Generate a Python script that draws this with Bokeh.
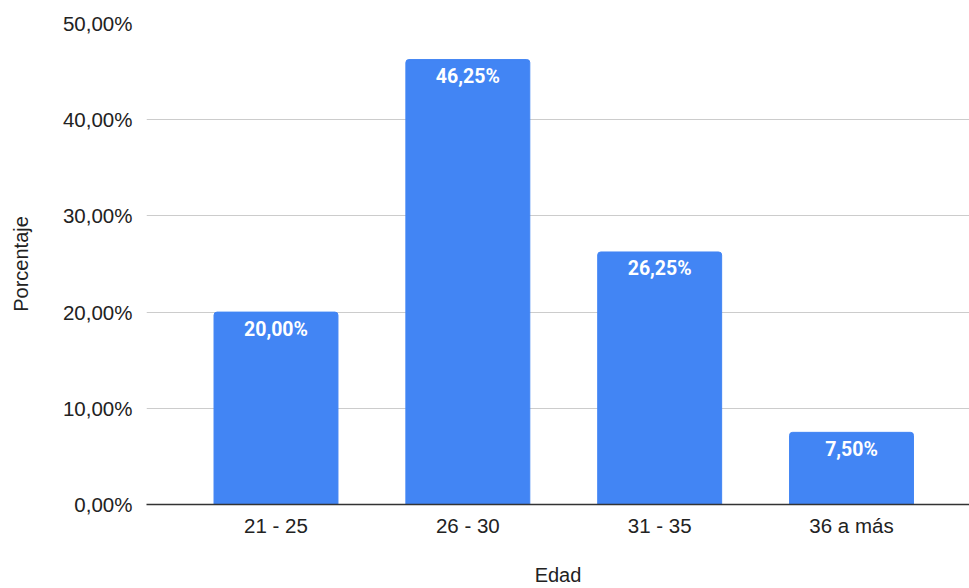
from bokeh.plotting import figure
from bokeh.models import Range1d, FixedTicker, ColumnDataSource
from bokeh.core.properties import value
from bokeh.embed import file_html
from bokeh.resources import INLINE

categories = ["21 - 25", "26 - 30", "31 - 35", "36 a más"]
percentages = [20.00, 46.25, 26.25, 7.50]
y_ticks = [0, 10, 20, 30, 40, 50]
y_tick_labels = ["0,00%", "10,00%", "20,00%", "30,00%", "40,00%", "50,00%"]

positions = list(range(len(categories)))
bar_labels = [f"{v:.2f}".replace(".", ",") + "%" for v in percentages]

src = ColumnDataSource(dict(x=positions, top=percentages, label=bar_labels))

p = figure(width=969, height=588, output_backend="svg", toolbar_location=None,
           x_range=Range1d(-0.675, 3.615), y_range=Range1d(0, 50),
           min_border_left=146, min_border_right=0, min_border_top=23,
           min_border_bottom=83)
p.outline_line_color = None
p.background_fill_color = "white"

p.vbar(x="x", top="top", width=0.646, source=src, color="#4285F4",
       border_radius=(3, 3, 0, 0))
p.text(x="x", y="top", text="label", source=src, text_color="white",
       text_font=value("Roboto"), text_font_style="bold",
       text_font_size="19.5px", text_align="center", text_baseline="middle",
       y_offset=17)

# axes
p.xaxis.ticker = FixedTicker(ticks=positions)
p.xaxis.major_label_overrides = {i: c for i, c in zip(positions, categories)}
p.yaxis.ticker = FixedTicker(ticks=y_ticks)
p.yaxis.major_label_overrides = {t: l for t, l in zip(y_ticks, y_tick_labels)}

for ax in (p.xaxis, p.yaxis):
    ax.major_tick_line_color = None
    ax.minor_tick_line_color = None
    ax.major_label_text_font = "Liberation Sans"
    ax.major_label_text_font_size = "20.5px"
    ax.major_label_text_color = "#222222"
    ax.axis_label_text_font = "Liberation Sans"
    ax.axis_label_text_font_size = "20px"
    ax.axis_label_text_font_style = "normal"
    ax.axis_label_text_color = "#222222"

p.yaxis.axis_line_color = None
p.yaxis.major_label_standoff = 8
p.yaxis.axis_label = "Porcentaje"
p.yaxis.axis_label_standoff = 28

p.xaxis.axis_line_color = "#333333"
p.xaxis.axis_line_width = 1.5
p.xaxis.major_label_standoff = 3
p.xaxis.axis_label = "Edad"
p.xaxis.axis_label_standoff = 24

p.xgrid.grid_line_color = None
p.ygrid.grid_line_color = "#cccccc"
p.ygrid.ticker = FixedTicker(ticks=y_ticks[1:])

open("out.html", "w").write(file_html(p, INLINE))
